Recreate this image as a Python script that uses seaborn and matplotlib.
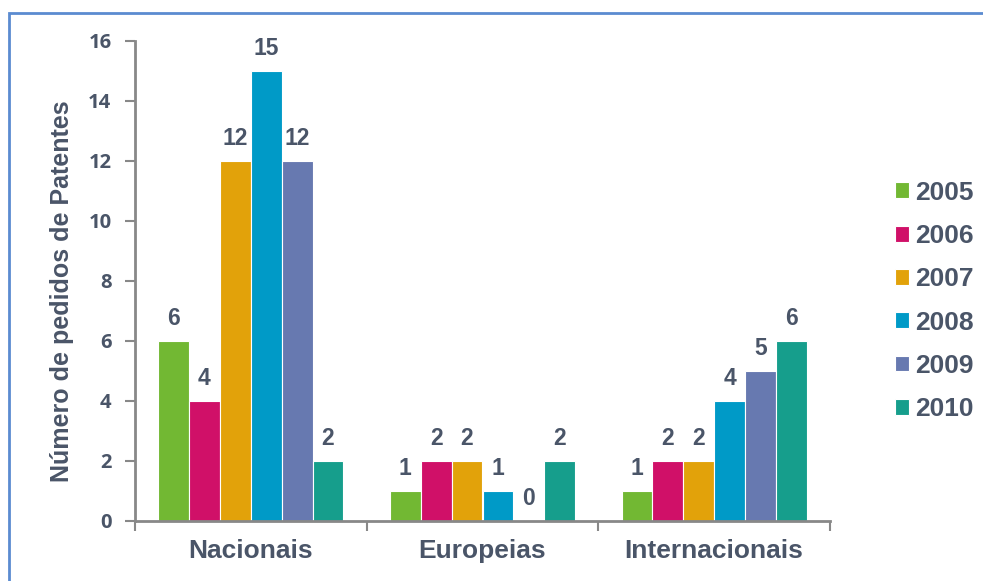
import pandas as pd
import matplotlib.pyplot as plt
import seaborn as sns
from matplotlib.patches import Rectangle
from matplotlib.ticker import FixedLocator, NullFormatter

# Data
categories = ['Nacionais', 'Europeias', 'Internacionais']
years = ['2005', '2006', '2007', '2008', '2009', '2010']
values = {
    '2005': [6, 1, 1],
    '2006': [4, 2, 2],
    '2007': [12, 2, 2],
    '2008': [15, 1, 4],
    '2009': [12, 0, 5],
    '2010': [2, 2, 6],
}
colors = ['#72B833', '#D01068', '#E2A20A', '#009AC7', '#6779B0', '#169E8C']

rows = []
for y in years:
    for c, v in zip(categories, values[y]):
        rows.append({'categoria': c, 'ano': y, 'pedidos': v})
df = pd.DataFrame(rows)

sns.set_theme(style="white")
text_color = '#4A5568'

fig = plt.figure(figsize=(9.83, 5.81), dpi=100)
ax = fig.add_axes([135 / 983, 1 - 521 / 581, 695 / 983, 480 / 581])

sns.barplot(data=df, x='categoria', y='pedidos', hue='ano', order=categories,
            hue_order=years, palette=colors, width=0.8, saturation=1,
            edgecolor='white', linewidth=0.8, ax=ax)

# value labels
for cont in ax.containers:
    for bar in cont:
        h = bar.get_height()
        ax.annotate(f'{int(h)}', (bar.get_x() + bar.get_width() / 2, h),
                    xytext=(0, 8), textcoords='offset points', ha='center', va='bottom',
                    fontsize=16.5, fontweight='bold', color=text_color, family='Liberation Sans')

ax.set_ylim(0, 16)
ax.set_xlim(-0.5, 2.5)
ax.set_yticks(range(0, 17, 2))
ax.set_xlabel('')
ax.set_ylabel('Número de pedidos de Patentes', fontsize=18, fontweight='bold',
              color=text_color, family='Liberation Sans')
ax.yaxis.set_label_coords(-0.088, 0.479)

for s in ['top', 'right']:
    ax.spines[s].set_visible(False)
for s in ['left', 'bottom']:
    ax.spines[s].set_color('#888888')
    ax.spines[s].set_linewidth(2)

ax.tick_params(axis='y', which='major', direction='out', length=7, width=1.5,
               color='#888888', labelsize=14.5, labelcolor=text_color, pad=10, left=True)
for lbl in ax.get_yticklabels():
    lbl.set_fontweight('bold')
    lbl.set_family('Open Sans')

ax.tick_params(axis='x', which='major', length=0, labelsize=19, labelcolor=text_color, pad=13)
for lbl in ax.get_xticklabels():
    lbl.set_fontweight('bold')
    lbl.set_family('Liberation Sans')
ax.xaxis.set_minor_locator(FixedLocator([-0.5, 0.5, 1.5, 2.5]))
ax.xaxis.set_minor_formatter(NullFormatter())
ax.tick_params(axis='x', which='minor', direction='out', length=7, width=1.5,
               color='#888888', bottom=True)

leg = ax.legend(loc='upper left', bbox_to_anchor=(871 / 983, 1 - 157 / 581),
                bbox_transform=fig.transFigure, frameon=False, handlelength=0.55,
                handleheight=0.55, handletextpad=0.22, labelspacing=0.73,
                prop={'family': 'Liberation Sans', 'weight': 'bold', 'size': 19})
for t in leg.get_texts():
    t.set_color(text_color)

# outer border
fig.patches.append(Rectangle((9 / 983, -0.1), 1.2, 1.1 - 13 / 581, transform=fig.transFigure,
                             fill=False, edgecolor='#5B8BD0', linewidth=2))

fig.savefig('out.png', dpi=100)
